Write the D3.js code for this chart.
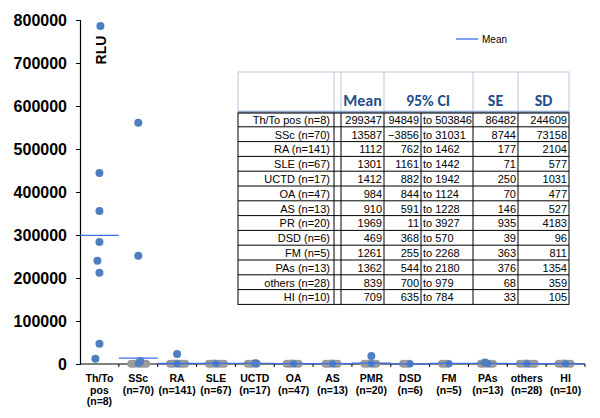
<!DOCTYPE html>
<html><head><meta charset="utf-8">
<script src="https://cdn.jsdelivr.net/npm/d3@7"></script>
<style>body{margin:0;background:#fff}svg{display:block}</style>
</head><body>
<svg id="c" width="600" height="418"></svg>
<script>
const categories = ["Th/To pos (n=8)","SSc (n=70)","RA (n=141)","SLE (n=67)","UCTD (n=17)","OA (n=47)","AS (n=13)","PMR (n=20)","DSD (n=6)","FM (n=5)","PAs (n=13)","others (n=28)","HI (n=10)"];
const catLines = [["Th/To","pos","(n=8)"],["SSc","(n=70)"],["RA","(n=141)"],["SLE","(n=67)"],["UCTD","(n=17)"],["OA","(n=47)"],["AS","(n=13)"],["PMR","(n=20)"],["DSD","(n=6)"],["FM","(n=5)"],["PAs","(n=13)"],["others","(n=28)"],["HI","(n=10)"]];
const means = [299347,13587,1112,1301,1412,984,910,1969,469,1261,1362,839,709];
// visible high points per group
const highPoints = [
  [786000,444000,356000,284000,240000,212000,47000,12000],
  [561000,252000,7000],
  [23000],[],[1800],[],[],[18500],[],[],[3500],[],[]
];
// representative near-zero points per group
const lowPoints = [
  [],
  [300,600,900,500,800,400],
  [300,600,900,500,800,400],
  [300,600,900,500,800,400],
  [300,600,900,500],
  [300,600,900,500,800],
  [300,600,900,500,800],
  [300,600,900,500,800],
  [300,600,500],
  [300,600,500],
  [300,600,900,500,800],
  [300,600,900,500,800,400],
  [300,600,900,500,800]
];
const yTicks = [0,100000,200000,300000,400000,500000,600000,700000,800000];

const tableLabels = ["Th/To pos (n=8)","SSc (n=70)","RA (n=141)","SLE (n=67)","UCTD (n=17)","OA (n=47)","AS (n=13)","PR (n=20)","DSD (n=6)","FM (n=5)","PAs (n=13)","others (n=28)","HI (n=10)"];
const tableMean = [299347,13587,1112,1301,1412,984,910,1969,469,1261,1362,839,709];
const ciLow = [94849,-3856,762,1161,882,844,591,11,368,255,544,700,635];
const ciHigh = [503846,31031,1462,1442,1942,1124,1228,3927,570,2268,2180,979,784];
const tableSE = [86482,8744,177,71,250,70,146,935,39,363,376,68,33];
const tableSD = [244609,73158,2104,577,1031,477,527,4183,96,811,1354,359,105];

const svg = d3.select("#c");
const x = d3.scaleBand().domain(categories).range([80,585]);
const y = d3.scaleLinear().domain([0,800000]).range([364,20]);
const ptBlue = "#4f7fc0", meanBlue = "#3a6ee8";

// y axis
const ya = svg.append("g").attr("transform","translate(80,0)")
  .call(d3.axisLeft(y).tickValues(yTicks).tickSize(4).tickPadding(9).tickFormat(d3.format("d")));
ya.select(".domain").attr("stroke","#000").attr("stroke-width",1.2);
ya.selectAll("text").attr("font-family","Arial, Liberation Sans, sans-serif").attr("font-size",16).attr("font-weight","bold").attr("fill","#000");

// x axis
svg.append("line").attr("x1",80).attr("x2",585).attr("y1",y(0)).attr("y2",y(0)).attr("stroke","#000").attr("stroke-width",1.2);
categories.forEach((c,i)=>{
  const bx = x(c)+x.bandwidth();
  svg.append("line").attr("x1",bx).attr("x2",bx).attr("y1",y(0)).attr("y2",y(0)+3).attr("stroke","#000");
  catLines[i].forEach((t,j)=>{
    svg.append("text").attr("x",x(c)+x.bandwidth()/2).attr("y",382+j*11.5)
      .attr("text-anchor","middle").attr("font-family","Arial, Liberation Sans, sans-serif")
      .attr("font-size",10.5).attr("font-weight","bold").text(t);
  });
});

// low clusters
const offs = [-7,-4,-1,2,5,8,-5,4];
lowPoints.forEach((arr,i)=>{
  const cx = x(categories[i])+x.bandwidth()/2;
  arr.forEach((v,j)=>{
    svg.append("circle").attr("cx",cx+offs[j%offs.length]).attr("cy",y(v)).attr("r",4).attr("fill","#9a9a9a");
  });
  if(arr.length){
    svg.append("circle").attr("cx",cx).attr("cy",y(arr[0])).attr("r",3.5).attr("fill",ptBlue);
  }
});
// mean lines
means.forEach((m,i)=>{
  svg.append("line").attr("x1",x(categories[i])).attr("x2",x(categories[i])+x.bandwidth())
    .attr("y1",y(m)).attr("y2",y(m)).attr("stroke",meanBlue).attr("stroke-width",1.3);
});
// high points
const hoffs = [[1,0,0,0,-2,0,0,-4],[0,0,2],[0],[],[1],[],[],[0],[],[],[-3],[],[]];
highPoints.forEach((arr,i)=>{
  const cx = x(categories[i])+x.bandwidth()/2;
  arr.forEach((v,j)=>{
    svg.append("circle").attr("cx",cx+hoffs[i][j]).attr("cy",y(v)).attr("r",4).attr("fill",ptBlue);
  });
});

// RLU label
svg.append("text").attr("transform","translate(106,50) rotate(-90)").attr("text-anchor","middle")
  .attr("font-family","Arial, Liberation Sans, sans-serif").attr("font-size",14).attr("font-weight","bold").text("RLU");

// legend
svg.append("line").attr("x1",456).attr("x2",478).attr("y1",39).attr("y2",39).attr("stroke",meanBlue).attr("stroke-width",1.3);
svg.append("text").attr("x",482).attr("y",43).attr("font-family","Arial, Liberation Sans, sans-serif").attr("font-size",10).text("Mean");

// table
const tb = svg.append("g");
const colX = [238,334,341,384,421,473,518,569];
const tTop = 72, headBottom = 112, rowH = 14.8;
const nRows = tableLabels.length;
const tBottom = headBottom + nRows*rowH;
const hdrCol = "#b9c6de";
tb.append("rect").attr("x",238).attr("y",tTop).attr("width",569-238).attr("height",headBottom-tTop).attr("fill","none").attr("stroke",hdrCol);
[334,341,384,473,518].forEach(cx=>tb.append("line").attr("x1",cx).attr("x2",cx).attr("y1",tTop).attr("y2",headBottom).attr("stroke",hdrCol));
tb.append("line").attr("x1",238).attr("x2",569).attr("y1",headBottom).attr("y2",headBottom).attr("stroke","#8fa6cf").attr("stroke-width",2.5);
const hdr = [["Mean",362.5],["95% CI",428],["SE",495.5],["SD",543.5]];
hdr.forEach(h=>tb.append("text").attr("x",h[1]).attr("y",106).attr("text-anchor","middle")
  .attr("font-family","Carlito, Calibri, Liberation Sans, sans-serif").attr("font-size",16).attr("font-weight","bold").attr("fill","#1f4e8c").text(h[0]));
tb.append("rect").attr("x",238).attr("y",headBottom+1).attr("width",569-238).attr("height",tBottom-headBottom-1).attr("fill","none").attr("stroke","#000");
colX.slice(1,-1).forEach(cx=>tb.append("line").attr("x1",cx).attr("x2",cx).attr("y1",headBottom+1).attr("y2",tBottom).attr("stroke","#000"));
const fmt = d3.format("d");
tableLabels.forEach((lab,i)=>{
  const ry = headBottom + (i+1)*rowH;
  if(i<nRows-1) tb.append("line").attr("x1",238).attr("x2",569).attr("y1",ry).attr("y2",ry).attr("stroke","#000");
  const ty = ry-3;
  const cell = (tx,anchor,txt)=>tb.append("text").attr("x",tx).attr("y",ty).attr("text-anchor",anchor)
    .attr("font-family","Arial, Liberation Sans, sans-serif").attr("font-size",11).text(txt);
  cell(330,"end",lab);
  cell(382,"end",fmt(tableMean[i]));
  cell(419,"end",fmt(ciLow[i]));
  cell(423,"start","to "+fmt(ciHigh[i]));
  cell(516,"end",fmt(tableSE[i]));
  cell(567,"end",fmt(tableSD[i]));
});
</script>
</body></html>
